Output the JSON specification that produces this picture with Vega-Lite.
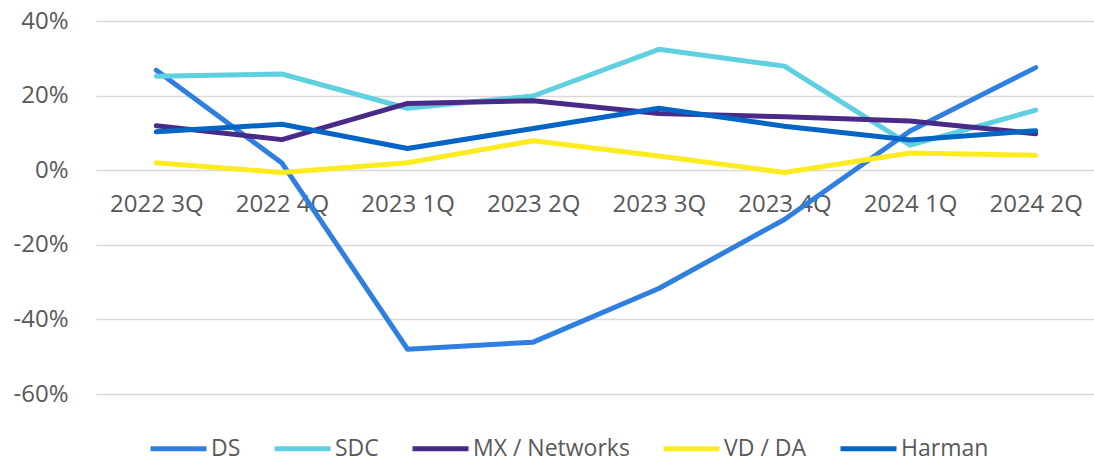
{
  "$schema": "https://vega.github.io/schema/vega-lite/v6.json",
  "width": 1000,
  "height": 373,
  "autosize": {"type": "none"},
  "padding": {"left": 96, "top": 21, "right": 0, "bottom": 65},
  "background": "white",
  "config": {
    "view": {"stroke": null},
    "font": "Open Sans",
    "axis": {"labelFont": "Open Sans", "labelColor": "#595959", "labelFontSize": 24},
    "legend": {"labelFont": "Open Sans", "labelColor": "#595959", "labelFontSize": 23}
  },
  "data": {
    "values": [
      {"q": "2022 3Q", "s": "DS", "v": 0.268},
      {"q": "2022 4Q", "s": "DS", "v": 0.019},
      {"q": "2023 1Q", "s": "DS", "v": -0.48},
      {"q": "2023 2Q", "s": "DS", "v": -0.461},
      {"q": "2023 3Q", "s": "DS", "v": -0.317},
      {"q": "2023 4Q", "s": "DS", "v": -0.132},
      {"q": "2024 1Q", "s": "DS", "v": 0.105},
      {"q": "2024 2Q", "s": "DS", "v": 0.275},
      {"q": "2022 3Q", "s": "SDC", "v": 0.252},
      {"q": "2022 4Q", "s": "SDC", "v": 0.258},
      {"q": "2023 1Q", "s": "SDC", "v": 0.166},
      {"q": "2023 2Q", "s": "SDC", "v": 0.199},
      {"q": "2023 3Q", "s": "SDC", "v": 0.324},
      {"q": "2023 4Q", "s": "SDC", "v": 0.279},
      {"q": "2024 1Q", "s": "SDC", "v": 0.067},
      {"q": "2024 2Q", "s": "SDC", "v": 0.161},
      {"q": "2022 3Q", "s": "MX / Networks", "v": 0.119},
      {"q": "2022 4Q", "s": "MX / Networks", "v": 0.082},
      {"q": "2023 1Q", "s": "MX / Networks", "v": 0.179},
      {"q": "2023 2Q", "s": "MX / Networks", "v": 0.186},
      {"q": "2023 3Q", "s": "MX / Networks", "v": 0.152},
      {"q": "2023 4Q", "s": "MX / Networks", "v": 0.143},
      {"q": "2024 1Q", "s": "MX / Networks", "v": 0.132},
      {"q": "2024 2Q", "s": "MX / Networks", "v": 0.098},
      {"q": "2022 3Q", "s": "VD / DA", "v": 0.02},
      {"q": "2022 4Q", "s": "VD / DA", "v": -0.006},
      {"q": "2023 1Q", "s": "VD / DA", "v": 0.02},
      {"q": "2023 2Q", "s": "VD / DA", "v": 0.079},
      {"q": "2023 3Q", "s": "VD / DA", "v": 0.038},
      {"q": "2023 4Q", "s": "VD / DA", "v": -0.006},
      {"q": "2024 1Q", "s": "VD / DA", "v": 0.046},
      {"q": "2024 2Q", "s": "VD / DA", "v": 0.04},
      {"q": "2022 3Q", "s": "Harman", "v": 0.103},
      {"q": "2022 4Q", "s": "Harman", "v": 0.123},
      {"q": "2023 1Q", "s": "Harman", "v": 0.058},
      {"q": "2023 2Q", "s": "Harman", "v": 0.112},
      {"q": "2023 3Q", "s": "Harman", "v": 0.166},
      {"q": "2023 4Q", "s": "Harman", "v": 0.118},
      {"q": "2024 1Q", "s": "Harman", "v": 0.081},
      {"q": "2024 2Q", "s": "Harman", "v": 0.106}
    ]
  },
  "mark": {"type": "line", "strokeWidth": 5, "strokeCap": "round", "strokeJoin": "round"},
  "encoding": {
    "x": {
      "field": "q", "type": "ordinal", "sort": null,
      "scale": {"type": "point", "padding": 0.48},
      "axis": {"title": null, "domain": false, "ticks": false, "grid": false, "labelAngle": 0, "offset": -224, "labelPadding": 22, "labelBaseline": "top"}
    },
    "y": {
      "field": "v", "type": "quantitative",
      "scale": {"domain": [-0.6, 0.4], "nice": false, "zero": false},
      "axis": {"title": null, "labelExpr": "replace(format(datum.value, '.0%'), '\u2212', '-')", "values": [-0.6, -0.4, -0.2, 0, 0.2, 0.4], "domain": false, "ticks": false, "labelPadding": 28, "gridColor": "#d9d9d9", "gridWidth": 1.5}
    },
    "color": {
      "field": "s", "type": "nominal",
      "scale": {"domain": ["DS", "SDC", "MX / Networks", "VD / DA", "Harman"], "range": ["#2E7FE0", "#5FD0E0", "#4A2A87", "#FCEB1E", "#0565C4"]},
      "legend": {"title": null, "orient": "none", "legendX": 52, "legendY": 397, "direction": "horizontal", "symbolType": "stroke", "symbolSize": 3136, "symbolStrokeWidth": 5, "labelOffset": 2, "columnPadding": 23}
    },
    "order": {"field": "q"}
  }
}
